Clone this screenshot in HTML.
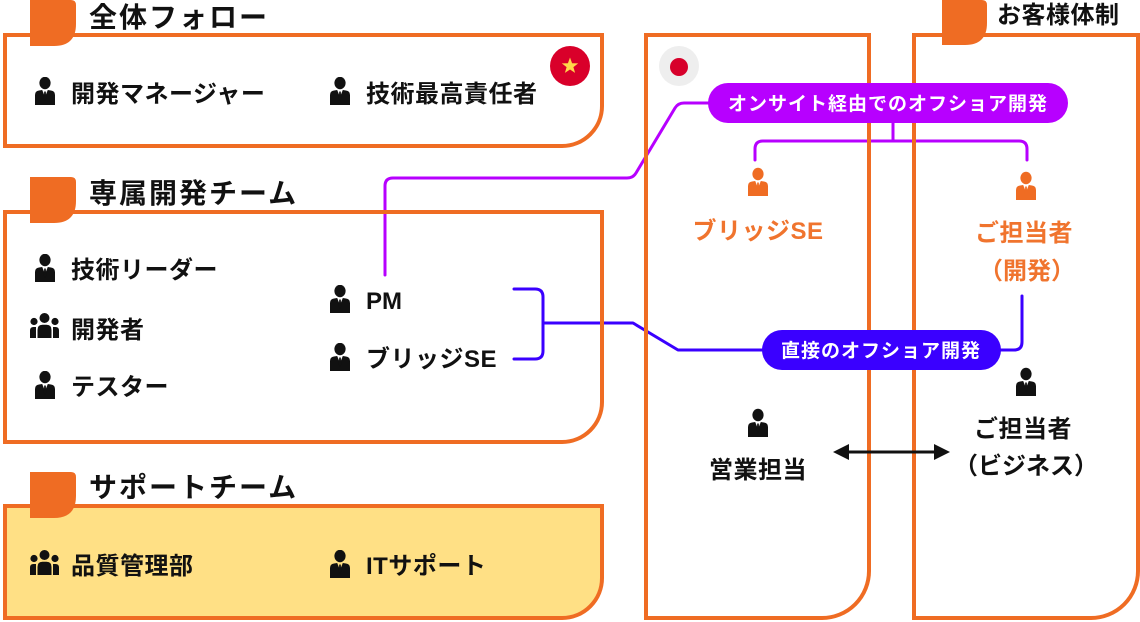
<!DOCTYPE html>
<html lang="ja">
<head>
<meta charset="utf-8">
<style>
  html,body{margin:0;padding:0;background:#fff;}
  svg{display:block;}
  text{font-family:"Liberation Sans","Noto Sans CJK JP",sans-serif;font-weight:bold;}
</style>
</head>
<body>
<svg width="1140" height="622" viewBox="0 0 1140 622" xmlns="http://www.w3.org/2000/svg">
  <defs>
    <symbol id="person" viewBox="0 0 20 28">
      <ellipse cx="10" cy="6" rx="5.6" ry="6.2"/>
      <path d="M0,28 V18 Q0,14 4,13.5 L7.2,13 L10,20 L12.8,13 L16,13.5 Q20,14 20,18 V28 Z"/>
      <path d="M9.2,14.5 H10.8 L11.2,22 L10,24 L8.8,22 Z"/>
    </symbol>
    <symbol id="group" viewBox="0 0 29 25">
      <circle cx="14.5" cy="5" r="5"/>
      <path d="M7.5,25 V17 Q7.5,11.8 12.5,11.8 H16.5 Q21.5,11.8 21.5,17 V25 Z"/>
      <circle cx="4" cy="8.5" r="3.6"/>
      <path d="M0,25 V17.5 Q0,14 3.5,14 H6 V25 Z"/>
      <circle cx="25" cy="8.5" r="3.6"/>
      <path d="M29,25 V17.5 Q29,14 25.5,14 H23 V25 Z"/>
    </symbol>
  </defs>

  <!-- support box fill -->
  <path d="M5,506 H602 V578 A40,40 0 0 1 562,618 H5 Z" fill="#ffe085"/>

  <!-- connectors (under box borders) -->
  <g fill="none" stroke-width="3" stroke-linecap="round" stroke-linejoin="round">
    <path d="M385,275 V186 Q385,178 393,178 H627 Q633,178 636,173 L675,108 Q678,103 684,103 H712" stroke="#b700ff"/>
    <path d="M893,122 V141" stroke="#b700ff"/>
    <path d="M755,160 V149 Q755,141 763,141 H1019 Q1027,141 1027,149 V160" stroke="#b700ff"/>
    <path d="M514,289 H535 Q543,289 543,297 V351 Q543,359 535,359 H514" stroke="#3a00ff"/>
    <path d="M543,323 H633 L678,350 H765" stroke="#3a00ff"/>
    <path d="M998,350 H1014 Q1022,350 1022,342 V296" stroke="#3a00ff"/>
  </g>

  <!-- box borders -->
  <g fill="none" stroke="#ef6c23" stroke-width="4">
    <path d="M5,35 H602 V106 A40,40 0 0 1 562,146 H5 Z"/>
    <path d="M5,212 H602 V402 A40,40 0 0 1 562,442 H5 Z"/>
    <path d="M5,506 H602 V578 A40,40 0 0 1 562,618 H5 Z"/>
    <path d="M646,35 H869 V571 A47,47 0 0 1 822,618 H646 Z"/>
    <path d="M914,35 H1138 V571 A47,47 0 0 1 1091,618 H914 Z"/>
  </g>

  <!-- tabs -->
  <g fill="#ef6c23">
    <path d="M30,0 H71 Q76,0 76,5 V24 Q76,46 54,46 H30 Z"/>
    <path d="M30,177 H71 Q76,177 76,182 V201 Q76,223 54,223 H30 Z"/>
    <path d="M30,472 H71 Q76,472 76,477 V496 Q76,518 54,518 H30 Z"/>
    <path d="M942,0 H982 Q987,0 987,5 V23 Q987,45 965,45 H942 Z"/>
  </g>

  <!-- titles -->
  <g fill="#111">
    <text x="89" y="27" font-size="28" letter-spacing="2">全体フォロー</text>
    <text x="89" y="203" font-size="28" letter-spacing="2">専属開発チーム</text>
    <text x="89" y="497" font-size="28" letter-spacing="2">サポートチーム</text>
    <text x="997" y="23" font-size="24" letter-spacing="0.5">お客様体制</text>
  </g>

  <!-- Vietnam flag -->
  <circle cx="570" cy="66" r="20" fill="#d9002a"/>
  <polygon fill="#ffd84a" points="570,57.5 572.1,63.3 578.2,63.4 573.4,67.1 575.1,72.9 570,69.5 564.9,72.9 566.6,67.1 561.8,63.4 567.9,63.3"/>

  <!-- Japan flag -->
  <circle cx="679" cy="66" r="20" fill="#eeeeee"/>
  <circle cx="679" cy="67" r="9" fill="#d7002b"/>

  <!-- left items -->
  <g fill="#111">
    <use href="#person" x="35" y="77" width="20" height="28"/>
    <text x="71" y="102" font-size="24" letter-spacing="0.5">開発マネージャー</text>
    <use href="#person" x="330" y="77" width="20" height="28"/>
    <text x="366" y="102" font-size="24" letter-spacing="0.5">技術最高責任者</text>

    <use href="#person" x="35" y="254" width="20" height="28"/>
    <text x="71" y="278" font-size="24" letter-spacing="0.5">技術リーダー</text>
    <use href="#group" x="30" y="313" width="29" height="25"/>
    <text x="71" y="338" font-size="24" letter-spacing="0.5">開発者</text>
    <use href="#person" x="35" y="371" width="20" height="28"/>
    <text x="71" y="395" font-size="24" letter-spacing="0.5">テスター</text>

    <use href="#person" x="330" y="285" width="20" height="28"/>
    <text x="366" y="309" font-size="24">PM</text>
    <use href="#person" x="330" y="343" width="20" height="28"/>
    <text x="366" y="367" font-size="24" letter-spacing="0.5">ブリッジSE</text>

    <use href="#group" x="30" y="550" width="29" height="25"/>
    <text x="71" y="574" font-size="24" letter-spacing="0.5">品質管理部</text>
    <use href="#person" x="330" y="550" width="20" height="28"/>
    <text x="366" y="574" font-size="24" letter-spacing="0.5">ITサポート</text>
  </g>

  <!-- pills -->
  <rect x="708" y="83" width="360" height="40" rx="20" fill="#b700ff"/>
  <text x="888" y="110" font-size="19" letter-spacing="1" text-anchor="middle" fill="#fff">オンサイト経由でのオフショア開発</text>
  <rect x="762" y="330" width="239" height="40" rx="20" fill="#3a00ff"/>
  <text x="881" y="357" font-size="19" letter-spacing="1" text-anchor="middle" fill="#fff">直接のオフショア開発</text>

  <!-- orange nodes -->
  <g fill="#ef6c23">
    <use href="#person" x="748" y="167" width="20" height="30"/>
    <use href="#person" x="1016" y="171" width="20" height="30"/>
  </g>
  <g fill="#f0742e" font-size="24" text-anchor="middle">
    <text x="758" y="239" letter-spacing="0.5">ブリッジSE</text>
    <text x="1024" y="241" letter-spacing="0.5">ご担当者</text>
    <text x="1027" y="279">（開発）</text>
  </g>

  <!-- black nodes -->
  <g fill="#111">
    <use href="#person" x="748" y="408" width="20" height="30"/>
    <use href="#person" x="1016" y="367" width="20" height="30"/>
  </g>
  <g fill="#111" font-size="24" text-anchor="middle">
    <text x="758" y="478" letter-spacing="0.5">営業担当</text>
    <text x="1023" y="437" letter-spacing="0.5">ご担当者</text>
    <text x="1026" y="474">（ビジネス）</text>
  </g>

  <!-- double arrow -->
  <line x1="846" y1="452" x2="937" y2="452" stroke="#111" stroke-width="3"/>
  <polygon points="833,452 849,444 849,460" fill="#111"/>
  <polygon points="950,452 934,444 934,460" fill="#111"/>
</svg>
</body>
</html>
